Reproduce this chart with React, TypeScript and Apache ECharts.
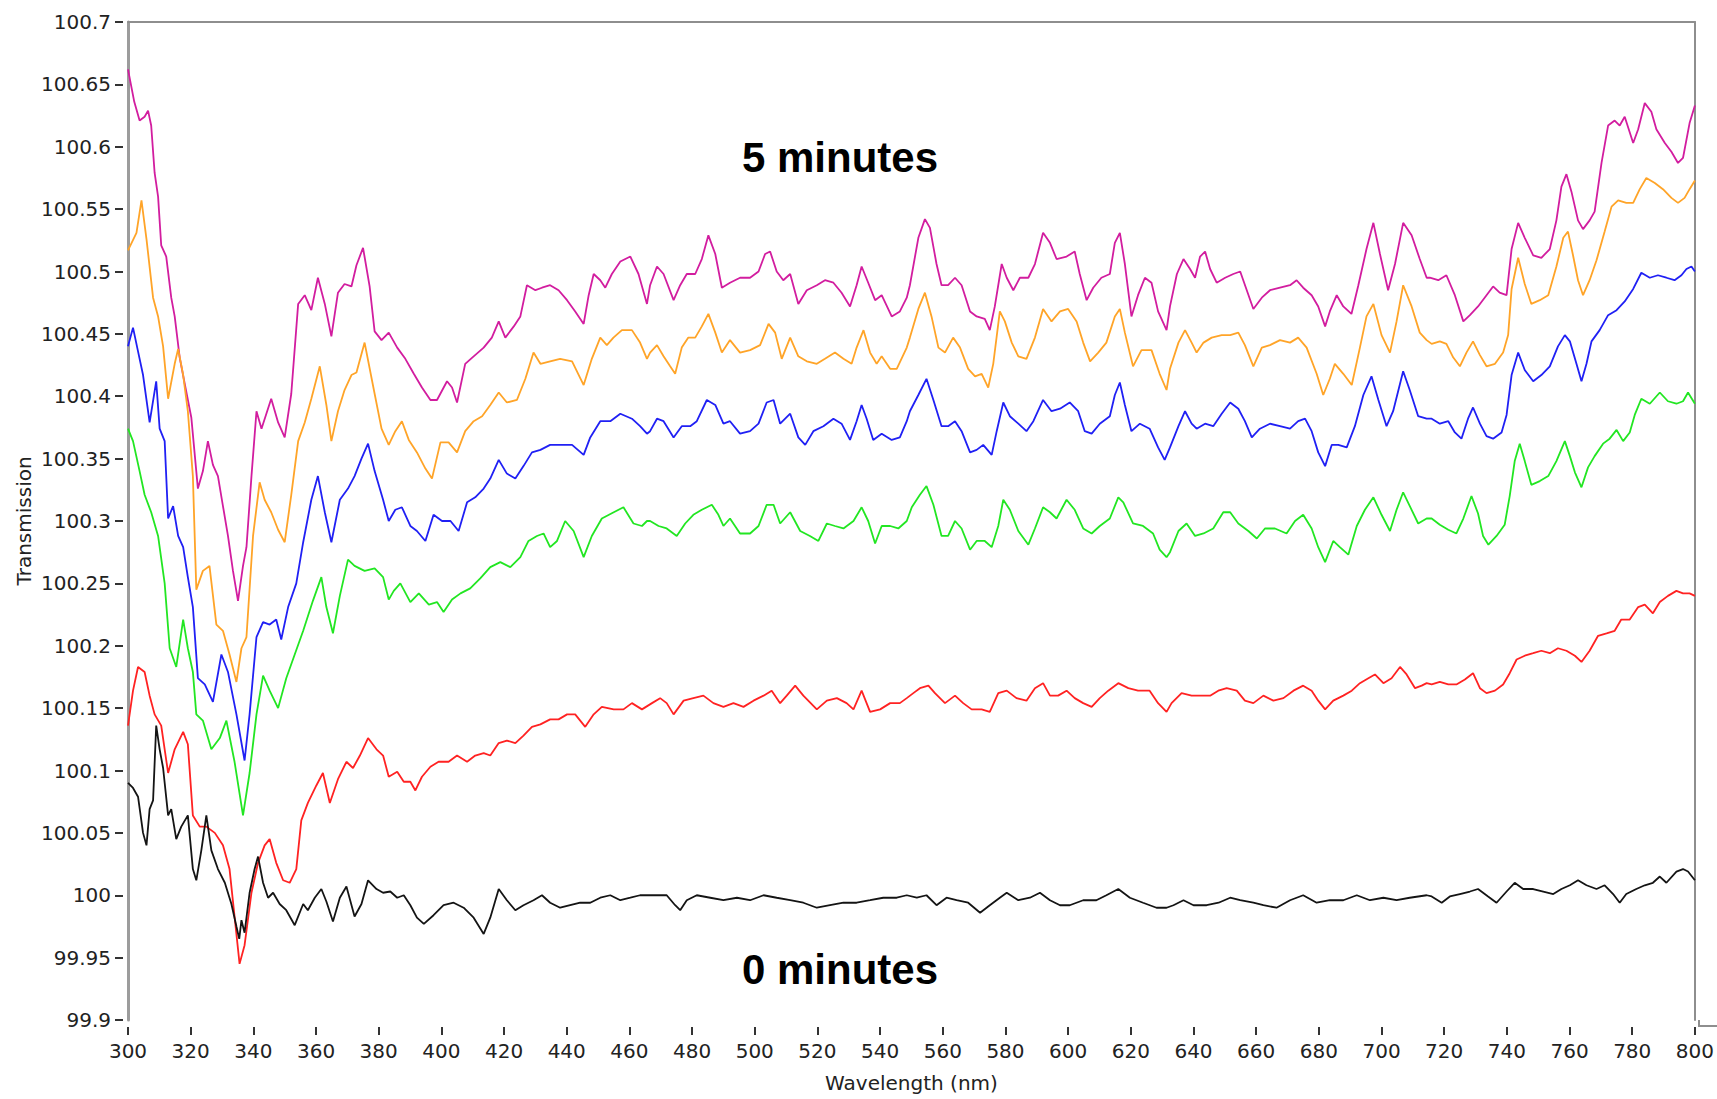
import { useEffect, useRef } from "react";
import * as echarts from "echarts";

// Axis ranges and tick steps
const X_MIN = 300;
const X_MAX = 800;
const X_STEP = 20;
const Y_MIN = 99.9;
const Y_MAX = 100.7;
const Y_STEP = 0.05;

const X_TITLE = "Wavelength (nm)";
const Y_TITLE = "Transmission";
const TOP_NOTE = "5 minutes";
const BOTTOM_NOTE = "0 minutes";

type Pt = [number, number];

// Transmission spectra, [wavelength nm, transmission]
const magentaTrace: Pt[] = [
  [300, 100.662], [302, 100.636], [303.7, 100.621], [305.3, 100.624], [306.4, 100.629], [307.4, 100.617], [308.5, 100.579], [309.6, 100.56], [310.6, 100.521], [312.2, 100.512], [313.8, 100.479], [314.9, 100.464], [316.5, 100.431], [318.1, 100.41], [320.2, 100.383], [322.3, 100.326], [323.9, 100.34], [325.5, 100.364], [327.1, 100.345], [328.7, 100.336], [330.3, 100.312], [331.9, 100.288], [333.5, 100.26], [335.1, 100.236], [336.7, 100.264], [337.8, 100.279], [339.4, 100.336], [341, 100.388], [342.6, 100.374], [345.7, 100.398], [347.9, 100.379], [350, 100.367], [352.1, 100.402], [354.3, 100.474], [356.4, 100.481], [358.5, 100.469], [360.6, 100.495], [362.8, 100.474], [364.9, 100.448], [367, 100.483], [369.1, 100.49], [371.3, 100.488], [372.9, 100.505], [375, 100.519], [377.1, 100.488], [378.7, 100.452], [380.9, 100.445],
  [383.2, 100.451], [385.9, 100.439], [388.5, 100.43], [391.2, 100.418], [393.8, 100.407], [396.5, 100.397], [398.6, 100.397], [401.8, 100.412], [403.4, 100.407], [405, 100.395], [407.6, 100.426], [410.3, 100.432], [413.5, 100.439], [416.1, 100.447], [418.3, 100.46], [420.4, 100.447], [423.1, 100.456], [425.2, 100.464], [427.3, 100.489], [430, 100.485], [432.1, 100.487], [434.7, 100.489], [437.4, 100.485], [440.1, 100.477], [442.7, 100.468], [445.4, 100.458], [447, 100.481], [448.6, 100.498], [450.7, 100.493], [452.3, 100.487], [454.4, 100.498], [457.1, 100.508], [460.3, 100.512], [462.9, 100.498], [465.6, 100.474],
  [466.6, 100.489], [468.8, 100.504], [470.9, 100.498], [474.1, 100.477], [476.2, 100.489], [478.3, 100.498], [481, 100.498], [483.1, 100.51], [485.2, 100.529], [487.4, 100.514], [489.5, 100.487], [492.1, 100.491], [495.3, 100.495], [498.5, 100.495], [501.2, 100.5], [503.3, 100.514], [504.9, 100.516], [507, 100.5], [509.1, 100.493], [511.3, 100.498], [513.9, 100.474], [516.6, 100.485], [519.8, 100.489], [522.4, 100.493], [525.1, 100.491], [527.7, 100.483], [530.4, 100.472], [532.5, 100.489], [534.1, 100.504], [536.2, 100.491], [538.4, 100.477], [540.5, 100.481], [543.7, 100.464], [546.3, 100.468], [548.5, 100.479],
  [549.5, 100.489], [552.2, 100.527], [554.3, 100.542], [555.9, 100.535], [558, 100.506], [559.6, 100.489], [561.7, 100.489], [563.9, 100.495], [566, 100.489], [568.7, 100.468], [570.8, 100.464], [573.4, 100.462], [575, 100.453], [576.6, 100.472], [578.8, 100.506], [580.4, 100.495], [582.5, 100.485], [584.6, 100.495], [587.3, 100.495], [589.4, 100.506], [592, 100.531], [594.2, 100.523], [596.3, 100.51], [599.5, 100.512], [602.1, 100.516], [603.7, 100.498], [605.9, 100.477], [608, 100.487], [610.6, 100.495], [613.3, 100.498], [614.9, 100.523], [616.5, 100.531], [618.1, 100.506], [620.2, 100.464], [622.3, 100.481], [624.5, 100.495], [626.6, 100.491], [628.7, 100.468], [631.4, 100.453],
  [632.5, 100.472], [634.7, 100.498], [636.8, 100.51], [638.9, 100.502], [640.5, 100.495], [642.1, 100.512], [643.7, 100.516], [645.3, 100.502], [647.4, 100.491], [650.1, 100.495], [652.7, 100.498], [654.9, 100.5], [657, 100.485], [659.1, 100.47], [661.8, 100.479], [664.4, 100.485], [667.6, 100.487], [670.8, 100.489], [672.9, 100.493], [675, 100.487], [677.7, 100.481], [679.8, 100.472], [682, 100.456], [683.5, 100.468], [685.7, 100.481], [687.8, 100.472], [690.4, 100.466], [692.6, 100.489], [695.2, 100.518], [697.4, 100.539], [699.5, 100.514], [702.1, 100.485], [704.3, 100.506], [706.9, 100.539], [709.6, 100.529], [712.2, 100.51], [714.4, 100.495],
  [715.4, 100.495], [718.1, 100.493], [720.7, 100.497], [723.4, 100.481], [726.1, 100.46], [728.2, 100.465], [730.8, 100.472], [733.5, 100.481], [735.6, 100.488], [737.7, 100.483], [739.9, 100.481], [741.5, 100.518], [743.6, 100.539], [745.7, 100.527], [748.4, 100.513], [751, 100.511], [753.7, 100.518], [755.8, 100.541], [757.4, 100.568], [759, 100.578], [760.6, 100.564], [762.7, 100.541], [764.3, 100.534], [766.4, 100.541], [768, 100.548], [770.2, 100.587], [772.3, 100.617], [774.4, 100.621], [776, 100.617], [777.6, 100.624], [780.3, 100.603], [781.9, 100.614], [784, 100.635], [786.1, 100.628], [787.7, 100.614], [790.4, 100.603], [792.5, 100.596], [794.6, 100.587], [796.2, 100.591], [798.3, 100.619], [800, 100.633],
];

const orangeTrace: Pt[] = [
  [300, 100.517], [302.7, 100.531], [304.3, 100.557], [305.9, 100.526], [308, 100.479], [309.6, 100.464], [311.2, 100.44], [312.8, 100.398], [314.9, 100.426], [316, 100.438], [317.6, 100.417], [319.1, 100.388], [320.7, 100.336], [321.8, 100.245], [323.9, 100.26], [326, 100.264], [328.2, 100.217], [330.3, 100.212], [332.4, 100.193], [334.6, 100.171], [336.2, 100.198], [337.8, 100.207], [339.9, 100.288], [342, 100.331], [343.6, 100.317], [345.7, 100.307], [347.9, 100.293], [350, 100.283], [352.1, 100.321], [354.3, 100.364], [356.4, 100.379], [358.5, 100.398], [361.2, 100.424], [363.3, 100.393], [364.9, 100.364], [367, 100.388], [369.1, 100.405], [371.3, 100.417], [372.9, 100.419], [375.5, 100.443], [378.7, 100.402], [380.9, 100.374],
  [383.2, 100.361], [385.3, 100.372], [387.4, 100.38], [389.6, 100.365], [392.2, 100.355], [394.9, 100.342], [397, 100.334], [399.7, 100.363], [402.3, 100.363], [405, 100.355], [407.6, 100.372], [410.3, 100.38], [413, 100.384], [415.6, 100.393], [418.3, 100.403], [420.9, 100.395], [424.1, 100.397], [426.8, 100.414], [429.4, 100.435], [431.6, 100.426], [434.7, 100.428], [437.9, 100.43], [441.7, 100.428], [445.4, 100.409], [448, 100.43], [450.7, 100.447], [452.8, 100.441], [454.9, 100.447], [457.6, 100.453], [460.8, 100.453], [463.4, 100.443], [465.6, 100.43],
  [466.6, 100.435], [468.8, 100.441], [470.9, 100.432], [473, 100.424], [474.6, 100.418], [476.7, 100.439], [478.8, 100.447], [481, 100.447], [483.1, 100.456], [485.2, 100.466], [487.4, 100.451], [489.5, 100.435], [492.1, 100.445], [495.3, 100.435], [498.5, 100.437], [501.7, 100.441], [504.4, 100.458], [506.5, 100.451], [508.6, 100.43], [511.3, 100.447], [513.9, 100.432], [516.6, 100.428], [519.8, 100.426], [522.4, 100.43], [525.6, 100.435], [528.3, 100.43], [530.9, 100.426], [532.5, 100.439], [534.7, 100.453], [536.8, 100.435], [538.9, 100.426], [540.5, 100.432], [543.2, 100.422], [545.3, 100.422], [548.5, 100.439],
  [549.5, 100.447], [552.2, 100.47], [554.3, 100.483], [556.4, 100.464], [558.6, 100.439], [560.7, 100.435], [563.3, 100.447], [565.5, 100.439], [568.1, 100.422], [570.3, 100.416], [572.4, 100.418], [574.5, 100.407], [576.1, 100.426], [578.2, 100.468], [579.8, 100.46], [582, 100.443], [584.1, 100.432], [586.7, 100.43], [589.4, 100.447], [592, 100.47], [594.7, 100.46], [597.4, 100.468], [600, 100.47], [602.7, 100.46], [604.8, 100.443], [607, 100.428], [609.6, 100.435], [612.2, 100.443], [614.9, 100.464], [616.5, 100.47], [618.1, 100.451], [620.7, 100.424], [623.4, 100.437], [626.6, 100.437], [629.2, 100.418], [631.4, 100.405],
  [632.5, 100.422], [635.2, 100.443], [637.3, 100.453], [639.4, 100.443], [641, 100.435], [643.2, 100.443], [645.8, 100.447], [649, 100.449], [651.7, 100.449], [654.3, 100.451], [656.4, 100.441], [659.1, 100.424], [661.8, 100.439], [664.4, 100.441], [667.6, 100.445], [670.8, 100.443], [673.4, 100.447], [676.1, 100.439], [679.3, 100.418], [681.4, 100.401], [683.5, 100.414], [685.1, 100.426], [687.8, 100.418], [690.5, 100.409], [693.1, 100.439], [695.2, 100.464], [697.4, 100.474], [700, 100.449], [702.7, 100.435], [704.8, 100.46], [706.9, 100.489], [709.6, 100.472], [712.2, 100.451], [714.4, 100.445],
  [716, 100.442], [718.6, 100.444], [720.7, 100.442], [722.9, 100.431], [725, 100.424], [727.1, 100.435], [729.2, 100.444], [731.4, 100.433], [733.5, 100.424], [736.2, 100.426], [738.8, 100.435], [740.4, 100.449], [741.5, 100.486], [743.6, 100.511], [745.7, 100.49], [747.8, 100.474], [750.5, 100.477], [753.2, 100.481], [755.8, 100.504], [758, 100.527], [759.5, 100.532], [761.1, 100.513], [762.7, 100.493], [764.3, 100.481], [766.4, 100.493], [768.6, 100.509], [771.2, 100.532], [773.4, 100.552], [775.5, 100.557], [778.1, 100.555], [780.3, 100.555], [782.4, 100.566], [784.5, 100.575], [787.2, 100.571], [789.8, 100.566], [792.5, 100.559], [794.6, 100.555], [796.7, 100.559], [798.3, 100.566], [800, 100.573],
];

const blueTrace: Pt[] = [
  [300, 100.44], [301.6, 100.455], [303.2, 100.436], [304.8, 100.417], [306.9, 100.379], [309, 100.412], [310.1, 100.374], [311.7, 100.364], [312.8, 100.302], [314.4, 100.312], [316, 100.288], [317.6, 100.279], [319.1, 100.255], [320.7, 100.231], [322.3, 100.174], [324.5, 100.169], [327.1, 100.155], [329.8, 100.193], [331.9, 100.179], [334.6, 100.145], [337.2, 100.108], [338.8, 100.145], [341, 100.207], [343.1, 100.219], [345.2, 100.217], [347.3, 100.221], [348.9, 100.205], [351.1, 100.231], [353.7, 100.25], [355.9, 100.283], [358.5, 100.317], [360.6, 100.336], [362.8, 100.307], [364.9, 100.283], [367.6, 100.317], [370.2, 100.326], [372.3, 100.336], [374.5, 100.35], [376.6, 100.362], [378.7, 100.34], [381.4, 100.317],
  [383.2, 100.3], [385.3, 100.309], [387.4, 100.311], [390.1, 100.296], [392.2, 100.292], [394.9, 100.284], [397.5, 100.305], [400.2, 100.3], [402.9, 100.3], [405.5, 100.292], [408.2, 100.315], [410.8, 100.319], [413.5, 100.326], [415.6, 100.334], [418.3, 100.349], [420.9, 100.338], [423.6, 100.334], [426.2, 100.344], [428.9, 100.355], [431.6, 100.357], [434.7, 100.361], [437.9, 100.361], [441.7, 100.361], [445.4, 100.353], [447.5, 100.367], [450.7, 100.38], [453.9, 100.38], [457.1, 100.386], [460.8, 100.382], [463.4, 100.376], [465.6, 100.37],
  [466.6, 100.372], [468.8, 100.382], [470.9, 100.38], [474.1, 100.367], [476.7, 100.376], [479.4, 100.376], [481.5, 100.38], [484.7, 100.397], [487.4, 100.393], [490, 100.378], [492.1, 100.38], [495.3, 100.37], [498.5, 100.372], [501.2, 100.378], [503.8, 100.395], [506, 100.397], [508.1, 100.378], [511.3, 100.386], [513.9, 100.367], [516.1, 100.361], [518.7, 100.372], [521.9, 100.376], [525.1, 100.382], [527.7, 100.378], [530.4, 100.365], [532.5, 100.38], [534.1, 100.393], [535.7, 100.382], [537.8, 100.365], [540.5, 100.37], [543.7, 100.365], [546.3, 100.367], [548.5, 100.38],
  [549.5, 100.388], [552.2, 100.401], [554.8, 100.414], [557, 100.397], [559.6, 100.376], [561.7, 100.376], [563.9, 100.38], [566, 100.372], [568.7, 100.355], [570.8, 100.357], [572.9, 100.361], [575.6, 100.353], [577.2, 100.372], [579.3, 100.395], [581.4, 100.384], [584.1, 100.378], [586.7, 100.372], [588.9, 100.38], [592, 100.397], [594.7, 100.388], [597.4, 100.39], [600.5, 100.395], [603.2, 100.388], [605.3, 100.372], [607.5, 100.37], [610.1, 100.378], [613.3, 100.384], [614.9, 100.401], [616.5, 100.411], [618.1, 100.393], [620.2, 100.372], [622.9, 100.378], [626, 100.374], [628.7, 100.359], [630.8, 100.349],
  [632.5, 100.359], [635.2, 100.376], [637.3, 100.388], [639.4, 100.378], [641, 100.374], [643.7, 100.378], [646.3, 100.376], [649, 100.386], [651.7, 100.395], [654.3, 100.39], [656.4, 100.38], [658.6, 100.367], [661.2, 100.374], [664.4, 100.378], [667.6, 100.376], [670.8, 100.374], [673.4, 100.38], [675.6, 100.382], [677.7, 100.372], [679.8, 100.355], [682, 100.344], [684.1, 100.361], [686.2, 100.361], [688.9, 100.359], [691.5, 100.376], [694.2, 100.401], [696.8, 100.416], [699, 100.397], [701.6, 100.376], [703.7, 100.388], [706.9, 100.42], [709, 100.405], [711.7, 100.384], [714.4, 100.382],
  [716, 100.382], [718.6, 100.378], [721.3, 100.38], [723.4, 100.371], [725.5, 100.366], [727.6, 100.382], [729.2, 100.391], [731.4, 100.378], [733.5, 100.368], [735.6, 100.366], [738.3, 100.371], [739.9, 100.385], [741.5, 100.417], [743.6, 100.435], [745.7, 100.421], [748.4, 100.412], [751, 100.417], [753.7, 100.424], [756.3, 100.44], [758.5, 100.449], [760.1, 100.444], [762.2, 100.426], [763.8, 100.412], [765.4, 100.426], [767, 100.444], [769.6, 100.453], [772.3, 100.465], [775, 100.469], [777.6, 100.476], [780.3, 100.486], [782.9, 100.499], [785.6, 100.495], [788.2, 100.497], [790.9, 100.495], [793.5, 100.493], [795.7, 100.497], [797.3, 100.502], [798.9, 100.504], [800, 100.5],
];

const greenTrace: Pt[] = [
  [300, 100.374], [301.6, 100.364], [303.7, 100.34], [305.3, 100.321], [307.4, 100.307], [309.6, 100.288], [311.7, 100.25], [313.3, 100.198], [315.4, 100.183], [317.6, 100.221], [319.1, 100.198], [320.7, 100.179], [321.8, 100.145], [323.9, 100.14], [326.6, 100.117], [329.3, 100.126], [331.4, 100.14], [334, 100.107], [336.7, 100.064], [338.8, 100.098], [341, 100.145], [343.1, 100.176], [345.2, 100.164], [347.9, 100.15], [350.5, 100.174], [353.2, 100.193], [355.9, 100.212], [359, 100.236], [361.7, 100.255], [363.3, 100.231], [365.4, 100.21], [367.6, 100.24], [370.2, 100.269], [372.3, 100.264], [375.5, 100.26], [378.7, 100.262], [381.4, 100.255],
  [383.2, 100.237], [384.8, 100.244], [386.9, 100.25], [390.1, 100.235], [392.8, 100.242], [396, 100.233], [398.6, 100.235], [400.7, 100.227], [403.4, 100.237], [406.1, 100.242], [409.2, 100.246], [412.4, 100.254], [415.6, 100.263], [418.8, 100.267], [422, 100.263], [425.2, 100.271], [427.8, 100.284], [430.5, 100.288], [432.6, 100.29], [434.7, 100.279], [436.9, 100.284], [439.5, 100.3], [442.2, 100.292], [445.4, 100.271], [448, 100.288], [451.2, 100.302], [455, 100.307], [458.1, 100.311], [461.3, 100.298], [464, 100.296], [465.6, 100.3],
  [466.6, 100.3], [469.3, 100.296], [471.9, 100.294], [475.1, 100.288], [477.8, 100.298], [480.4, 100.305], [483.1, 100.309], [486.3, 100.313], [488.4, 100.305], [490, 100.296], [492.1, 100.302], [495.3, 100.29], [498.5, 100.29], [501.2, 100.296], [503.8, 100.313], [506, 100.313], [508.1, 100.298], [511.3, 100.307], [514.5, 100.292], [517.6, 100.288], [520.3, 100.284], [523, 100.298], [525.6, 100.296], [528.3, 100.294], [531.5, 100.3], [534.1, 100.311], [536.2, 100.3], [538.4, 100.282], [540.5, 100.296], [543.2, 100.296], [545.8, 100.294], [548.5, 100.3],
  [550.1, 100.311], [552.7, 100.321], [554.8, 100.328], [557, 100.313], [559.6, 100.288], [561.7, 100.288], [563.9, 100.3], [566, 100.294], [568.7, 100.277], [570.8, 100.284], [573.4, 100.284], [575.6, 100.279], [577.7, 100.296], [579.3, 100.317], [581.4, 100.309], [584.1, 100.292], [587.3, 100.281], [589.4, 100.294], [592, 100.311], [594.2, 100.307], [596.3, 100.302], [599.5, 100.317], [602.1, 100.309], [604.8, 100.294], [607.5, 100.29], [610.1, 100.296], [613.3, 100.302], [616, 100.319], [617.6, 100.315], [620.7, 100.298], [623.9, 100.296], [627.1, 100.29], [629.2, 100.277], [631.4, 100.271],
  [632.5, 100.275], [635.2, 100.292], [637.8, 100.298], [640.5, 100.288], [643.2, 100.29], [646.3, 100.294], [649.5, 100.307], [651.7, 100.307], [654.3, 100.298], [657.5, 100.292], [660.2, 100.286], [662.8, 100.294], [666, 100.294], [669.7, 100.29], [672.4, 100.3], [675, 100.305], [677.7, 100.294], [679.8, 100.279], [682, 100.267], [684.6, 100.284], [686.7, 100.279], [689.4, 100.273], [692.1, 100.296], [694.7, 100.309], [697.4, 100.319], [700, 100.305], [702.7, 100.292], [704.8, 100.309], [706.9, 100.323], [709.6, 100.309], [711.7, 100.298], [714.4, 100.302],
  [716, 100.302], [718.6, 100.297], [721.3, 100.293], [723.9, 100.29], [726.1, 100.302], [728.7, 100.32], [730.8, 100.306], [732.4, 100.288], [734.1, 100.281], [736.7, 100.288], [739.3, 100.297], [740.9, 100.32], [742.5, 100.348], [744.1, 100.362], [745.7, 100.348], [747.8, 100.329], [750.5, 100.332], [753.2, 100.336], [755.8, 100.348], [758.5, 100.364], [760.1, 100.352], [761.7, 100.339], [763.8, 100.327], [765.9, 100.343], [768, 100.352], [770.7, 100.362], [772.8, 100.366], [775, 100.373], [777.1, 100.364], [779.2, 100.371], [780.8, 100.385], [782.9, 100.398], [785.6, 100.394], [788.8, 100.403], [791.4, 100.396], [794.1, 100.394], [796.2, 100.396], [797.8, 100.403], [800, 100.394],
];

const redTrace: Pt[] = [
  [300, 100.136], [301.6, 100.164], [303.2, 100.183], [305.3, 100.179], [306.9, 100.16], [308.5, 100.145], [310.6, 100.136], [312.8, 100.098], [314.9, 100.117], [317.6, 100.131], [319.1, 100.121], [320.7, 100.064], [322.9, 100.055], [325, 100.055], [327.7, 100.05], [330.3, 100.04], [332.4, 100.021], [334, 99.983], [335.6, 99.945], [337.2, 99.96], [339.4, 100.002], [341.5, 100.026], [343.6, 100.04], [345.2, 100.045], [347.3, 100.026], [349.5, 100.012], [351.6, 100.01], [353.7, 100.021], [355.3, 100.06], [357.4, 100.074], [360.1, 100.088], [362.2, 100.098], [364.4, 100.074], [367, 100.093], [369.7, 100.107], [371.8, 100.102], [374, 100.112], [376.6, 100.126], [379.3, 100.117], [381.4, 100.112],
  [383.2, 100.095], [385.9, 100.099], [388, 100.091], [390.1, 100.091], [391.7, 100.084], [393.8, 100.095], [396.5, 100.103], [399.1, 100.107], [402.3, 100.107], [405, 100.112], [408.2, 100.107], [410.8, 100.112], [413.5, 100.114], [415.6, 100.112], [418.3, 100.122], [420.9, 100.124], [423.6, 100.122], [426.2, 100.128], [428.9, 100.135], [431.6, 100.137], [434.7, 100.141], [437.4, 100.141], [440.1, 100.145], [442.7, 100.145], [445.9, 100.135], [448.6, 100.145], [451.2, 100.151], [455, 100.149], [458.1, 100.149], [460.8, 100.154], [464, 100.149],
  [467.2, 100.154], [469.8, 100.158], [471.9, 100.154], [474.1, 100.145], [477.3, 100.156], [480.4, 100.158], [483.6, 100.16], [486.8, 100.154], [490, 100.151], [493.2, 100.154], [496.4, 100.151], [499.6, 100.156], [502.8, 100.16], [505.4, 100.164], [508.1, 100.154], [510.2, 100.16], [512.9, 100.168], [515.5, 100.16], [519.8, 100.149], [523, 100.156], [526.2, 100.158], [529.3, 100.154], [531.5, 100.149], [534.1, 100.164], [536.8, 100.147], [540, 100.149], [543.2, 100.154], [546.3, 100.154], [548.5, 100.158],
  [550.6, 100.162], [552.7, 100.166], [555.4, 100.168], [557.5, 100.162], [560.7, 100.154], [563.9, 100.16], [566.5, 100.154], [569.2, 100.149], [572.4, 100.149], [575, 100.147], [577.7, 100.162], [580.4, 100.164], [583.5, 100.158], [586.7, 100.156], [589.4, 100.166], [592, 100.17], [594.2, 100.16], [596.8, 100.16], [599.5, 100.164], [602.1, 100.158], [604.8, 100.154], [607.5, 100.151], [610.1, 100.158], [612.8, 100.164], [616, 100.17], [619.2, 100.166], [622.3, 100.164], [626, 100.164], [628.7, 100.154], [631.4, 100.147],
  [633, 100.154], [636.2, 100.162], [639.4, 100.16], [642.1, 100.16], [645.3, 100.16], [647.9, 100.164], [650.6, 100.166], [653.8, 100.164], [656.4, 100.156], [659.1, 100.154], [662.3, 100.16], [665.5, 100.156], [668.7, 100.158], [671.9, 100.164], [675, 100.168], [677.7, 100.164], [679.8, 100.156], [682, 100.149], [684.6, 100.156], [687.8, 100.16], [690.5, 100.164], [693.1, 100.17], [695.8, 100.174], [697.9, 100.177], [700.6, 100.17], [703.2, 100.174], [705.9, 100.183], [708, 100.177], [710.7, 100.166], [712.8, 100.168], [714.4, 100.17],
  [716, 100.169], [718.6, 100.171], [721.3, 100.169], [723.9, 100.169], [726.6, 100.173], [729.2, 100.178], [731.4, 100.166], [733.5, 100.162], [736.2, 100.164], [738.8, 100.169], [740.9, 100.178], [743.1, 100.189], [745.7, 100.192], [748.4, 100.194], [751, 100.196], [753.7, 100.194], [756.3, 100.198], [759, 100.196], [761.7, 100.192], [763.8, 100.187], [766.4, 100.196], [769.1, 100.208], [771.8, 100.21], [774.4, 100.212], [776.5, 100.221], [779.2, 100.221], [781.9, 100.231], [784, 100.233], [786.6, 100.226], [788.8, 100.235], [791.4, 100.24], [794.1, 100.244], [796.2, 100.242], [798.3, 100.242], [800, 100.24],
];

const blackTrace: Pt[] = [
  [300, 100.09], [301.6, 100.086], [303.2, 100.079], [304.8, 100.05], [305.9, 100.04], [306.9, 100.069], [308, 100.076], [309, 100.136], [310.1, 100.117], [311.2, 100.102], [312.8, 100.064], [313.8, 100.069], [315.4, 100.045], [317, 100.055], [319.1, 100.064], [320.7, 100.021], [321.8, 100.012], [323.4, 100.036], [325, 100.064], [326.6, 100.036], [328.7, 100.021], [330.9, 100.01], [333, 99.993], [334.6, 99.975], [335.5, 99.965], [336.2, 99.98], [337.2, 99.97], [338.8, 100.002], [340.4, 100.021], [341.5, 100.031], [343.1, 100.01], [344.7, 99.998], [346.3, 100.002], [348.4, 99.993], [350.5, 99.988], [353.2, 99.976], [355.9, 99.993], [357.4, 99.988], [359.6, 99.998], [361.7, 100.005], [363.3, 99.995], [365.4, 99.979], [367.6, 99.998], [369.7, 100.007], [372.3, 99.983], [374.5, 99.993], [376.6, 100.012], [379.3, 100.005], [381.4, 100.002],
  [383.7, 100.003], [385.9, 99.998], [388, 100.0], [390.1, 99.992], [392.2, 99.982], [394.4, 99.977], [397.5, 99.984], [400.7, 99.992], [403.9, 99.994], [407.1, 99.99], [410.3, 99.982], [413.5, 99.969], [415.6, 99.982], [418.3, 100.005], [420.9, 99.996], [423.6, 99.988], [426.2, 99.992], [429.4, 99.996], [432.1, 100.0], [434.7, 99.994], [437.9, 99.99], [441.1, 99.992], [444.3, 99.994], [447.5, 99.994], [450.7, 99.998], [453.9, 100.0], [457.1, 99.996], [460.3, 99.998], [463.4, 100.0],
  [468.8, 100.0], [471.9, 100.0], [474.6, 99.992], [476.2, 99.988], [478.3, 99.996], [481.5, 100.0], [485.8, 99.998], [490, 99.996], [494.3, 99.998], [498.5, 99.996], [502.8, 100.0], [507, 99.998], [511.3, 99.996], [515.5, 99.994], [519.8, 99.99], [524, 99.992], [528.3, 99.994], [532.5, 99.994], [536.8, 99.996], [541, 99.998], [545.3, 99.998],
  [548.5, 100.0], [551.7, 99.998], [554.8, 100.0], [558, 99.992], [561.2, 99.998], [564.4, 99.996], [568.1, 99.994], [571.9, 99.986], [575, 99.992], [578.2, 99.998], [580.4, 100.002], [584.1, 99.996], [587.8, 99.998], [591, 100.002], [594.2, 99.996], [597.4, 99.992], [600.5, 99.992], [604.8, 99.996], [609, 99.996], [612.2, 100.0], [616, 100.005], [619.7, 99.998], [623.9, 99.994], [628.2, 99.99],
  [631.4, 99.99], [633.6, 99.992], [636.8, 99.996], [640, 99.992], [644.2, 99.992], [648, 99.994], [651.7, 99.998], [654.9, 99.996], [659.1, 99.994], [662.3, 99.992], [666.5, 99.99], [670.8, 99.996], [675, 100.0], [679.3, 99.994], [683.5, 99.996], [687.8, 99.996], [692.1, 100.0], [696.3, 99.996], [700.6, 99.998], [704.8, 99.996], [709, 99.998], [714.4, 100.0],
  [716, 99.999], [719.2, 99.994], [721.8, 99.999], [725, 100.001], [728.2, 100.003], [730.8, 100.005], [734, 99.999], [736.7, 99.994], [739.9, 100.003], [742.5, 100.01], [745.2, 100.005], [748.4, 100.005], [751.6, 100.003], [754.8, 100.001], [757.4, 100.005], [760.1, 100.008], [762.7, 100.012], [765.4, 100.008], [768.6, 100.005], [771.2, 100.008], [773.9, 100.001], [776, 99.994], [778.1, 100.001], [781.3, 100.005], [784, 100.008], [786.6, 100.01], [788.8, 100.015], [790.9, 100.01], [794.1, 100.019], [796.2, 100.021], [797.8, 100.019], [800, 100.012],
];

const TRACES: { name: string; data: Pt[]; color: string }[] = [
  { name: "magenta", data: magentaTrace, color: "#d21d9f" },
  { name: "orange", data: orangeTrace, color: "#ffa428" },
  { name: "blue", data: blueTrace, color: "#2020f4" },
  { name: "green", data: greenTrace, color: "#22e622" },
  { name: "red", data: redTrace, color: "#ff2222" },
  { name: "black", data: blackTrace, color: "#141414" },
];

// Layout of the plotting frame, in pixels
const W = 1717;
const H = 1099;
const GRID = { left: 128, right: 18, top: 22, bottom: 79 };
const FRAME_COLOR = "#8e8e8e";
const AXIS_FONT = "DejaVu Sans";
const TEXT_COLOR = "#222";

const fmtY = (v: number) => String(Math.round(v * 100) / 100);

export default function App() {
  const ref = useRef<HTMLDivElement>(null);

  useEffect(() => {
    if (!ref.current) return;
    const chart = echarts.init(ref.current, undefined, { renderer: "svg" });
    const plotRight = W - GRID.right;
    const plotBottom = H - GRID.bottom;

    const yCommon = {
      type: "value" as const,
      min: Y_MIN,
      max: Y_MAX,
      interval: Y_STEP,
      splitLine: { show: false },
    };

    chart.setOption({
      animation: false,
      backgroundColor: "#ffffff",
      textStyle: { fontFamily: AXIS_FONT },
      grid: { ...GRID, containLabel: false },
      xAxis: [
        {
          type: "value",
          position: "bottom",
          min: X_MIN,
          max: X_MAX,
          interval: X_STEP,
          offset: 7,
          axisLine: { show: false },
          axisTick: { show: true, length: 8, lineStyle: { color: "#333", width: 2 } },
          axisLabel: {
            margin: 14,
            color: TEXT_COLOR,
            fontSize: 20,
            fontFamily: AXIS_FONT,
            showMinLabel: true,
            showMaxLabel: true,
            hideOverlap: false,
          },
          splitLine: { show: false },
          name: X_TITLE,
          nameLocation: "middle",
          nameGap: 46,
          nameTextStyle: { color: TEXT_COLOR, fontSize: 20, fontFamily: AXIS_FONT },
        },
        {
          type: "value",
          position: "top",
          min: X_MIN,
          max: X_MAX,
          axisLine: { show: true, lineStyle: { color: FRAME_COLOR, width: 2 } },
          axisTick: { show: false },
          axisLabel: { show: false },
          splitLine: { show: false },
        },
      ],
      yAxis: [
        {
          ...yCommon,
          position: "left",
          axisLine: { show: true, lineStyle: { color: "#9c9c9c", width: 3 } },
          axisTick: { show: false },
          axisLabel: { show: false },
        },
        {
          ...yCommon,
          position: "left",
          offset: 5,
          axisLine: { show: false },
          axisTick: { show: true, length: 8, lineStyle: { color: "#333", width: 2 } },
          axisLabel: {
            margin: 12,
            color: TEXT_COLOR,
            fontSize: 20,
            fontFamily: AXIS_FONT,
            formatter: fmtY,
            showMinLabel: true,
            showMaxLabel: true,
          },
        },
        {
          ...yCommon,
          position: "right",
          axisLine: { show: true, lineStyle: { color: FRAME_COLOR, width: 2 } },
          axisTick: { show: false },
          axisLabel: { show: false },
        },
      ],
      series: TRACES.map((t) => ({
        name: t.name,
        type: "line",
        xAxisIndex: 0,
        yAxisIndex: 0,
        data: t.data,
        symbol: "none",
        showSymbol: false,
        lineStyle: { color: t.color, width: 1.8 },
        itemStyle: { color: t.color },
        emphasis: { disabled: true },
        silent: true,
      })),
      graphic: [
        {
          type: "text",
          x: 24,
          y: (GRID.top + plotBottom) / 2,
          rotation: Math.PI / 2,
          style: {
            text: Y_TITLE,
            fill: TEXT_COLOR,
            fontSize: 20,
            fontFamily: AXIS_FONT,
            align: "center",
            verticalAlign: "middle",
          },
        },
        {
          type: "text",
          x: 840,
          y: 157,
          style: {
            text: TOP_NOTE,
            fill: "#000",
            fontSize: 42,
            fontWeight: "bold",
            fontFamily: "Liberation Sans",
            align: "center",
            verticalAlign: "middle",
          },
        },
        {
          type: "text",
          x: 840,
          y: 969,
          style: {
            text: BOTTOM_NOTE,
            fill: "#000",
            fontSize: 42,
            fontWeight: "bold",
            fontFamily: "Liberation Sans",
            align: "center",
            verticalAlign: "middle",
          },
        },
        // short frame tail at the lower right corner
        {
          type: "polyline",
          shape: {
            points: [
              [plotRight, plotBottom],
              [plotRight, plotBottom + 6],
              [W, plotBottom + 6],
            ],
          },
          style: { stroke: FRAME_COLOR, lineWidth: 2, fill: "none" },
        },
      ],
    });

    return () => chart.dispose();
  }, []);

  return (
    <div
      ref={ref}
      style={{ position: "absolute", left: 0, top: 0, width: W, height: H }}
    />
  );
}
